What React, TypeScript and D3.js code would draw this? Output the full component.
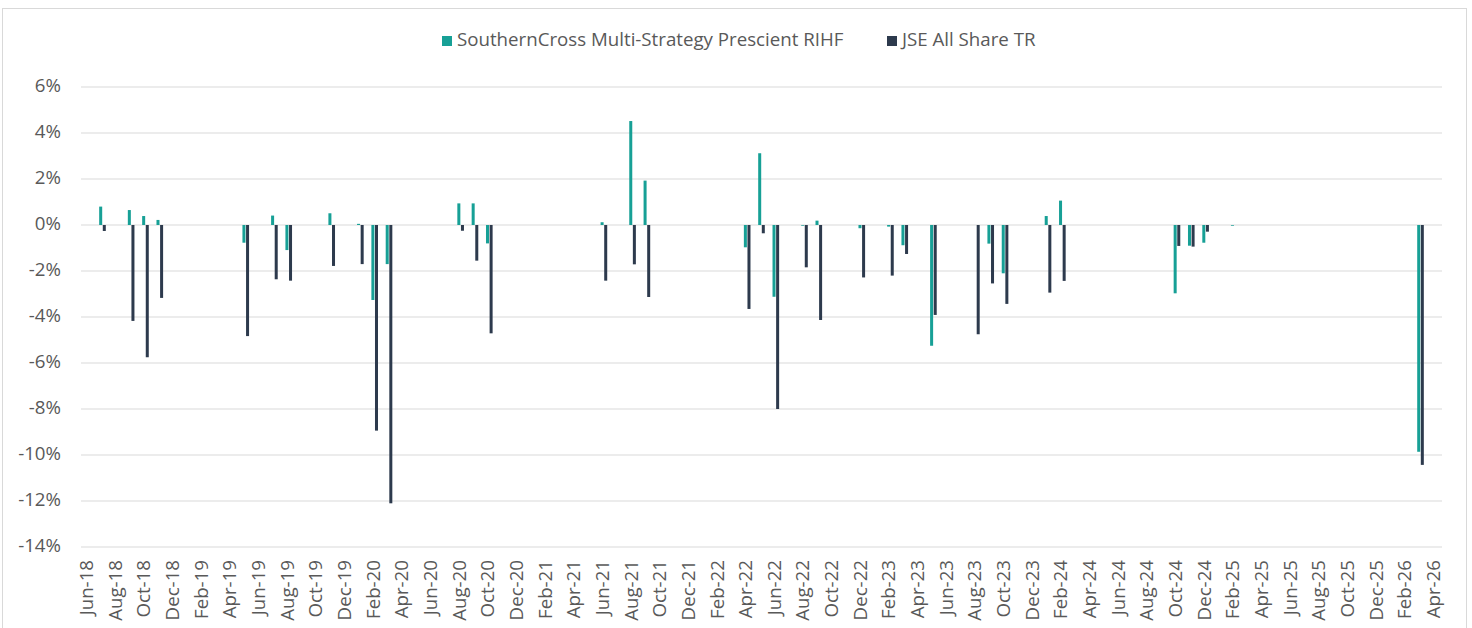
import * as React from 'react';
import * as d3 from 'd3';

// months that carry a value, with the two series (monthly return, %)
const months = [
  'Jul-18', 'Sep-18', 'Oct-18', 'Nov-18', 'May-19', 'Jul-19', 'Aug-19', 'Nov-19',
  'Jan-20', 'Feb-20', 'Mar-20', 'Aug-20', 'Sep-20', 'Oct-20', 'Jun-21', 'Aug-21',
  'Sep-21', 'Apr-22', 'May-22', 'Jun-22', 'Aug-22', 'Sep-22', 'Dec-22', 'Feb-23',
  'Mar-23', 'May-23', 'Aug-23', 'Sep-23', 'Oct-23', 'Jan-24', 'Feb-24', 'Oct-24',
  'Nov-24', 'Dec-24', 'Feb-25', 'Mar-26',
];
const fund = [
  0.8, 0.65, 0.39, 0.22, -0.77, 0.41, -1.09, 0.51,
  0.05, -3.26, -1.7, 0.94, 0.94, -0.8, 0.12, 4.52,
  1.93, -0.97, 3.12, -3.12, -0.03, 0.19, -0.14, -0.07,
  -0.88, -5.25, 0, -0.81, -2.1, 0.39, 1.06, -2.97,
  -0.9, -0.77, -0.03, -9.86,
];
const jse = [
  -0.26, -4.17, -5.75, -3.17, -4.83, -2.36, -2.42, -1.78,
  -1.7, -8.94, -12.1, -0.25, -1.55, -4.71, -2.42, -1.71,
  -3.13, -3.65, -0.36, -8.0, -1.84, -4.13, -2.28, -2.2,
  -1.26, -3.91, -4.75, -2.54, -3.43, -2.94, -2.43, -0.91,
  -0.94, -0.29, 0, -10.43,
];
const seriesNames = ['SouthernCross Multi-Strategy Prescient RIHF', 'JSE All Share TR'];
const yTicks = [6, 4, 2, 0, -2, -4, -6, -8, -10, -12, -14];

const colors = ['#17a096', '#2d3a4d'];
const font = "'Open Sans', sans-serif";
const textColor = '#595959';
const fs = 18.7;

const W = 1472;
const H = 628;

const App = () => {
  const fmt = d3.timeFormat('%b-%y');
  const categories = d3.timeMonth
    .range(new Date(2018, 5, 1), new Date(2026, 4, 1))
    .map((d) => fmt(d));

  const x = d3.scaleBand().domain(categories).range([81, 1442]).padding(0);
  const y = d3.scaleLinear().domain([-14, 6]).range([547, 87]);
  const bw = x.bandwidth();
  const barW = bw * 0.21;
  const gap = 0.3;

  const rows = months.map((m, i) => ({ m, v: [fund[i], jse[i]] }));

  return (
    <svg
      width={W}
      height={H}
      style={{ position: 'absolute', left: 0, top: 0, background: '#fff' }}
      fontFamily={font}
    >
      <rect x={2.5} y={8.5} width={1464} height={640} fill='#fff' stroke='#d9d9d9' />

      {/* gridlines + y labels */}
      {yTicks.map((t) => (
        <g key={t}>
          <line x1={81} x2={1442} y1={y(t)} y2={y(t)} stroke='#d9d9d9' strokeWidth={1.2} />
          <text
            x={61}
            y={y(t)}
            textAnchor='end'
            dominantBaseline='middle'
            fontSize={fs}
            fill={textColor}
          >
            {t}%
          </text>
        </g>
      ))}

      {/* bars */}
      {rows.map((r) => {
        const c = x(r.m) + bw / 2;
        return (
          <g key={r.m}>
            {r.v.map((v, j) =>
              v === 0 ? null : (
                <rect
                  key={j}
                  x={j === 0 ? c - gap - barW : c + gap}
                  y={y(Math.max(0, v))}
                  width={barW}
                  height={Math.abs(y(v) - y(0))}
                  fill={colors[j]}
                />
              )
            )}
          </g>
        );
      })}

      {/* x labels */}
      {categories.map((c, i) =>
        i % 2 === 0 ? (
          <text
            key={c}
            transform={`translate(${x(c) + bw / 2},560) rotate(-90)`}
            textAnchor='end'
            dominantBaseline='middle'
            fontSize={fs}
            fill={textColor}
          >
            {c}
          </text>
        ) : null
      )}

      {/* legend */}
      {[442, 887].map((lx, i) => (
        <g key={i} transform={`translate(${lx},41)`}>
          <rect x={0} y={-5} width={10} height={10} fill={colors[i]} />
          <text x={15} y={0} dominantBaseline='middle' fontSize={fs} fill={textColor}>
            {seriesNames[i]}
          </text>
        </g>
      ))}
    </svg>
  );
};

export default App;
